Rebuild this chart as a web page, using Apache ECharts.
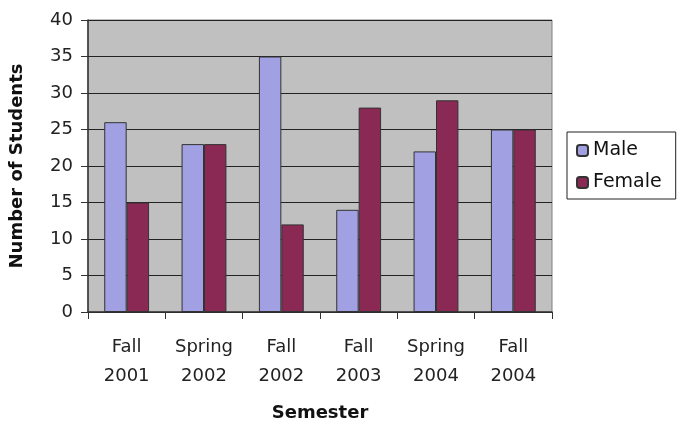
<!DOCTYPE html>
<html>
<head>
<meta charset="utf-8">
<script src="https://cdn.jsdelivr.net/npm/echarts@6/dist/echarts.min.js"></script>
<style>
  html, body { margin: 0; padding: 0; background: #fff; }
  #main { width: 687px; height: 429px; }
</style>
</head>
<body>
<div id="main"></div>
<script>
// 学期 / 人数
var semesters = ['Fall\n2001', 'Spring\n2002', 'Fall\n2002', 'Fall\n2003', 'Spring\n2004', 'Fall\n2004'];
var male = [26, 23, 35, 14, 22, 25];
var female = [15, 23, 12, 28, 29, 25];

var chart = echarts.init(document.getElementById('main'));
var font = 'DejaVu Sans, sans-serif';

var option = {
    animation: false,
    textStyle: { fontFamily: font },
    grid: {
        left: 85, right: 135, top: 20, bottom: 117,
        show: true,
        backgroundColor: '#c0c0c0',
        borderColor: '#808080',
        borderWidth: 1
    },
    legend: {
        orient: 'vertical',
        left: 567, top: 132,
        padding: [9, 14, 7, 9],
        itemGap: 13,
        itemWidth: 11, itemHeight: 11,
        borderColor: '#222',
        borderWidth: 1,
        textStyle: { fontSize: 19, color: '#111', fontFamily: font },
        data: ['Male', 'Female']
    },
    xAxis: {
        type: 'category',
        data: semesters,
        name: 'Semester',
        nameLocation: 'middle',
        nameGap: 92,
        nameTextStyle: { fontSize: 18, fontWeight: 'bold', color: '#111' },
        axisLine: { lineStyle: { color: '#333', width: 1.5 } },
        axisTick: { show: true, interval: 0, length: 7, lineStyle: { color: '#333' } },
        axisLabel: { interval: 0, fontSize: 18, color: '#222', margin: 21, lineHeight: 29 }
    },
    yAxis: {
        type: 'value',
        min: 0, max: 40, interval: 5,
        name: 'Number of Students',
        nameLocation: 'middle',
        nameGap: 62,
        nameTextStyle: { fontSize: 18, fontWeight: 'bold', color: '#111' },
        axisLine: { show: true, lineStyle: { color: '#333', width: 1.5 } },
        axisTick: { show: true, length: 7, lineStyle: { color: '#333' } },
        axisLabel: { fontSize: 18, color: '#222', margin: 15 },
        splitLine: { lineStyle: { color: '#222', width: 1.2 } }
    },
    series: [{
        name: 'Male',
        type: 'bar',
        data: male,
        barGap: '0%',
        barCategoryGap: '42%',
        itemStyle: { color: '#a0a0e2', borderColor: '#333', borderWidth: 1 }
    }, {
        name: 'Female',
        type: 'bar',
        data: female,
        itemStyle: { color: '#8b2955', borderColor: '#333', borderWidth: 1 }
    }]
};
chart.setOption(option);
</script>
</body>
</html>
